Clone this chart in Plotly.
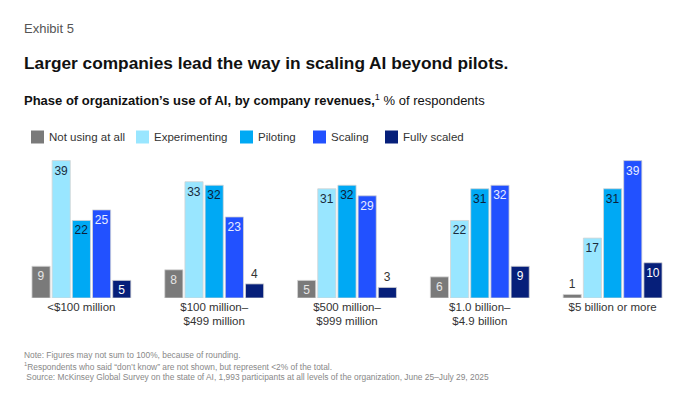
import plotly.graph_objects as go

categories = ["<$100 million", "$100 million–<br>$499 million", "$500 million–<br>$999 million",
              "$1.0 billion–<br>$4.9 billion", "$5 billion or more"]
series_names = ["Not using at all", "Experimenting", "Piloting", "Scaling", "Fully scaled"]
not_using = [9, 8, 5, 6, 1]
experimenting = [39, 33, 31, 22, 17]
piloting = [22, 32, 32, 31, 31]
scaling = [25, 23, 29, 32, 39]
fully_scaled = [5, 4, 3, 9, 10]
series_values = [not_using, experimenting, piloting, scaling, fully_scaled]

colors = ["#7a7a7a", "#99e6ff", "#00a9f4", "#2251ff", "#061f7a"]
inside_text_colors = ["#e6e6e6", "#1a2b3c", "#0b1f3a", "#e8ecff", "#ffffff"]
FONT = "Liberation Sans"

fig = go.Figure()
xs = list(range(len(categories)))
for name, vals, col, tcol in zip(series_names, series_values, colors, inside_text_colors):
    pos = ["inside" if v >= 5 else "outside" for v in vals]
    fig.add_trace(go.Bar(
        x=xs, y=vals, name=name, marker=dict(color=col, line=dict(color="#d4d4d4", width=0.8)),
        text=[str(v) for v in vals], textposition=pos, insidetextanchor="end",
        insidetextfont=dict(color=tcol, size=12, family=FONT),
        outsidetextfont=dict(color="#333333", size=12, family=FONT),
        textangle=0, cliponaxis=False, showlegend=False,
    ))

fig.update_layout(
    width=692, height=387, barmode="group", bargap=0.24, bargroupgap=0.1,
    margin=dict(l=7, r=21, t=142, b=97),
    paper_bgcolor="white", plot_bgcolor="white",
    font=dict(family=FONT, color="#333333"),
    uniformtext=dict(minsize=12, mode="show"),
    xaxis=dict(tickmode="array", tickvals=xs, ticktext=categories, range=[-0.5, 4.5],
               showgrid=False, zeroline=False, showline=False, ticks="",
               tickfont=dict(size=11.5, color="#333333", family=FONT)),
    yaxis=dict(range=[0, 42], visible=False),
)

# custom legend
leg_x = [31, 136, 240, 313, 385]
shapes = []
annotations = []
for lx, name, col in zip(leg_x, series_names, colors):
    shapes.append(dict(type="rect", xref="paper", yref="paper",
                       x0=(lx - 15) / 664, x1=(lx - 15 + 13) / 664,
                       y0=(298 - 143.5) / 148, y1=(298 - 130.5) / 148,
                       fillcolor=col, line=dict(width=0)))
    annotations.append(dict(xref="paper", yref="paper", x=(lx - 15 + 16) / 664,
                            y=(298 - 137) / 148, text=name, showarrow=False,
                            xanchor="left", yanchor="middle",
                            font=dict(size=11.5, color="#333333", family=FONT)))

def top_text(y, text, size, color):
    annotations.append(dict(xref="paper", yref="paper", x=(22 - 15) / 664, y=(298 - y) / 148,
                            text=text, showarrow=False, xanchor="left", yanchor="middle",
                            align="left", font=dict(size=size, color=color, family=FONT)))

top_text(28, "Exhibit 5", 13, "#555555")
top_text(63, "<b>Larger companies lead the way in scaling AI beyond pilots.</b>", 17.3, "#111111")
top_text(100, "<b>Phase of organization’s use of AI, by company revenues,</b><sup>1</sup> % of respondents",
         13, "#111111")
top_text(355, "Note: Figures may not sum to 100%, because of rounding.", 8.4, "#888888")
top_text(366, "<sup>1</sup>Respondents who said “don’t know” are not shown, but represent <2% of the total.",
         8.4, "#888888")
top_text(377, " Source: McKinsey Global Survey on the state of AI, 1,993 participants at all levels of the organization, June 25–July 29, 2025",
         8.4, "#888888")

fig.update_layout(shapes=shapes, annotations=annotations)
fig.write_html("out.html")
